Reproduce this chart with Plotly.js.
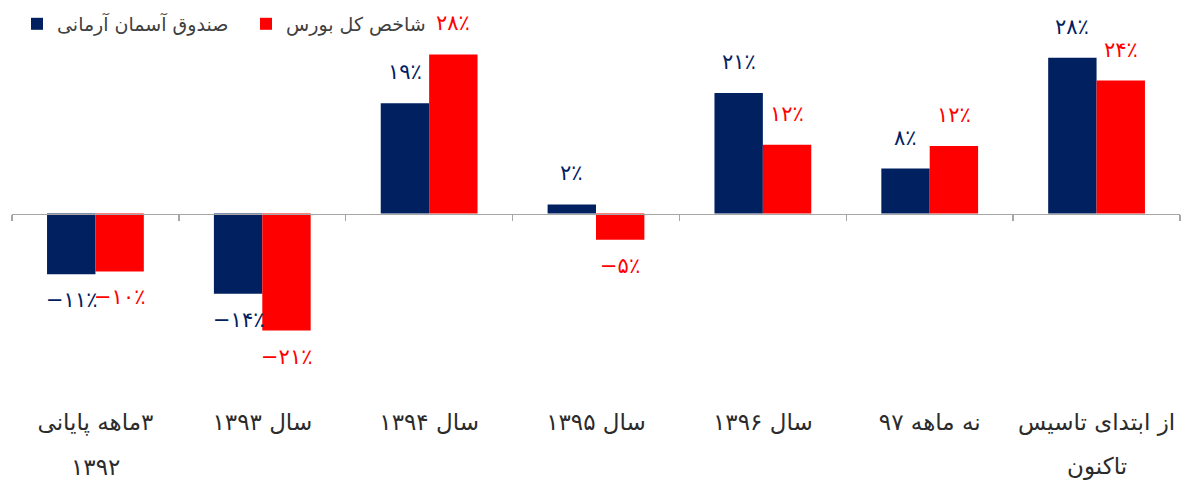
<!DOCTYPE html>
<html>
<head>
<meta charset="utf-8">
<script src="https://cdn.plot.ly/plotly-3.0.1.min.js"></script>
<style>html,body{margin:0;padding:0;background:#fff;}#chart{width:1186px;height:485px;}</style>
</head>
<body>
<div id="chart"></div>
<script>
// Data
var categories = ["\u200F۳ماهه پایانی", "سال ۱۳۹۳", "سال ۱۳۹۴", "سال ۱۳۹۵", "سال ۱۳۹۶", "نه ماهه ۹۷", "از ابتدای تاسیس"];
var categorySecondLine = ["۱۳۹۲", "", "", "", "", "", "تاکنون"];
var seriesNames = ["صندوق آسمان آرمانی", "شاخص کل بورس"];
var fundValues = [-10.7, -14.1, 19.4, 1.6, 21.2, 7.9, 27.4];
var indexValues = [-10.2, -20.6, 28.0, -4.6, 12.1, 11.9, 23.4];
var fundLabels = [-11, -14, 19, 2, 21, 8, 28];
var indexLabels = [-10, -21, 28, -5, 12, 12, 24];

var NAVY = "#002060", RED = "#FF0000", TXT = "#2b2b2b";
var FONT = "DejaVu Sans, sans-serif";
var BARGAP = 0.42;

function fa(n) {
  var d = "۰۱۲۳۴۵۶۷۸۹";
  var s = String(Math.abs(n)).replace(/[0-9]/g, function (c) { return d[+c]; });
  return (n < 0 ? "−" : "") + s + "٪";
}

var idx = categories.map(function (_, i) { return i; });

var traces = [
  { type: "bar", name: seriesNames[0], x: idx, y: fundValues, marker: { color: NAVY }, hoverinfo: "none" },
  { type: "bar", name: seriesNames[1], x: idx, y: indexValues, marker: { color: RED }, hoverinfo: "none" },
  { type: "scatter", mode: "markers", x: [null], y: [null], xaxis: "x2", yaxis: "y", showlegend: false, hoverinfo: "none" }
];

var off = (1 - BARGAP) / 4;
var annotations = [];
function addLabels(vals, labels, shift, color) {
  vals.forEach(function (v, i) {
    annotations.push({
      x: i + shift, y: v, xref: "x", yref: "y", text: fa(labels[i]), showarrow: false,
      yanchor: "middle", yshift: v >= 0 ? 31 : -26,
      font: { family: FONT, size: 21, color: color }
    });
  });
}
addLabels(fundValues, fundLabels, -off, NAVY);
addLabels(indexValues, indexLabels, off, RED);
categorySecondLine.forEach(function (t, i) {
  if (t) annotations.push({
    x: i, y: -0.223, xref: "x", yref: "paper", text: t, showarrow: false, yanchor: "middle",
    font: { family: FONT, size: 23, color: TXT }
  });
});

var yMin = -30.88, yMax = 30.53;
var zeroFrac = (0 - yMin) / (yMax - yMin);
var boundaries = [];
for (var b = -0.5; b <= categories.length - 0.5; b += 1) boundaries.push(b);

var layout = {
  width: 1186, height: 485,
  margin: { l: 12, r: 6, t: 39, b: 96 },
  paper_bgcolor: "#ffffff", plot_bgcolor: "#ffffff",
  barmode: "group", bargap: BARGAP, bargroupgap: 0,
  showlegend: true,
  legend: {
    orientation: "h", x: 0.0043, xanchor: "left", y: 1.043, yanchor: "middle",
    font: { family: FONT, size: 19, color: "#404040" }, traceorder: "normal",
    entrywidth: 184, entrywidthmode: "pixels", itemclick: false
  },
  xaxis: {
    range: [-0.5, categories.length - 0.5], tickvals: idx, ticktext: categories,
    showline: false, showgrid: false, zeroline: false, ticks: "", ticklabelstandoff: 17,
    tickfont: { family: FONT, size: 23, color: TXT }, fixedrange: true
  },
  xaxis2: {
    overlaying: "x", anchor: "free", position: zeroFrac, side: "bottom",
    range: [-0.5, categories.length - 0.5], tickvals: boundaries,
    showticklabels: false, ticks: "outside", ticklen: 6, tickcolor: "#a6a6a6", tickwidth: 1.5,
    showline: true, linecolor: "#a6a6a6", linewidth: 1.5, showgrid: false, zeroline: false,
    layer: "above traces", fixedrange: true
  },
  yaxis: {
    range: [yMin, yMax], visible: false, showgrid: false, zeroline: false, fixedrange: true
  },
  annotations: annotations
};

Plotly.newPlot("chart", traces, layout, { displayModeBar: false, staticPlot: true });
</script>
</body>
</html>
